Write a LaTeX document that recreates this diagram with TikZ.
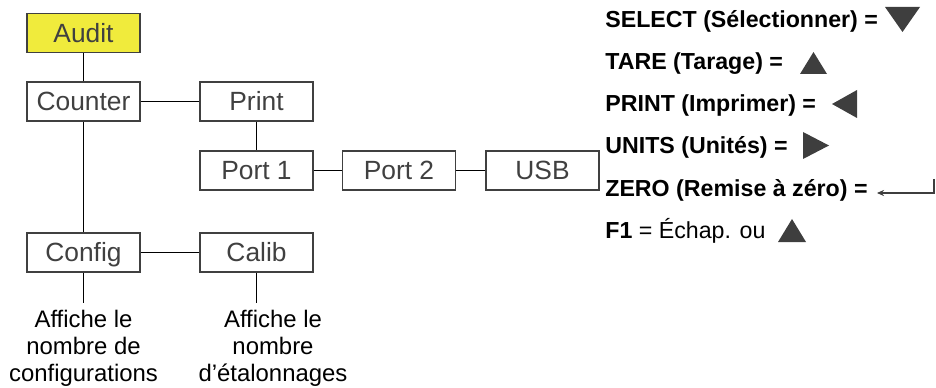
\documentclass[tikz,border=0pt]{standalone}
\usepackage{fontspec}
\setmainfont{Liberation Sans}
\usetikzlibrary{arrows.meta}
\definecolor{audityellow}{RGB}{240,235,60}
\definecolor{boxgray}{RGB}{64,64,64}
\definecolor{keygray}{RGB}{62,62,62}
\begin{document}
\begin{tikzpicture}[x=0.02cm, y=-0.02cm,
        menubox/.style={draw=boxgray, line width=0.9pt, text=boxgray,
            minimum width=2.26cm, minimum height=0.78cm, inner sep=0pt,
            text height=10.7pt, text depth=0pt,
            font=\fontsize{15}{17}\selectfont},
        link/.style={line width=0.85pt},
        note/.style={align=center, inner xsep=0pt, inner ysep=0.14cm,
            anchor=north, font=\fontsize{13.6}{15.3}\selectfont},
        keytext/.style={anchor=base west, inner sep=0pt,
            font=\fontsize{13.2}{15}\selectfont\bfseries},
        keytri/.style={fill=keygray}]
    \useasboundingbox (0,0) rectangle (936,388);
    % menu tree
    \node[menubox, fill=audityellow] (audit) at (83.5,33) {Audit};
    \node[menubox] (counter) at (83.5,101.5) {Counter};
    \node[menubox] (print) at (256.5,101.5) {Print};
    \node[menubox] (port1) at (256.5,170.5) {Port 1};
    \node[menubox] (port2) at (399,170.5) {Port 2};
    \node[menubox] (usb) at (542.5,170.5) {USB};
    \node[menubox] (config) at (83.5,252.5) {Config};
    \node[menubox] (calib) at (256.5,252.5) {Calib};
    \node[note] (confignote) at (83.5,303) {Affiche le\\nombre de\\configurations};
    \node[note] (calibnote) at (273,303) {Affiche le\\nombre\\d’étalonnages};
    \draw[link] (audit) -- (counter);
    \draw[link] (counter) -- (print);
    \draw[link] (print) -- (port1);
    \draw[link] (port1) -- (port2);
    \draw[link] (port2) -- (usb);
    \draw[link] (counter) -- (config);
    \draw[link] (config) -- (calib);
    \draw[link] (config) -- (confignote);
    \draw[link] (calib.south) -- (calib.south |- calibnote.north);
    % key legend
    \node[keytext] (selectkey) at (605,28) {SELECT (Sélectionner) =};
    \node[keytext] (tarekey) at (605,70) {TARE (Tarage) =};
    \node[keytext] (printkey) at (605,112) {PRINT (Imprimer) =};
    \node[keytext] (unitskey) at (605,154) {UNITS (Unités) =};
    \node[keytext] (zerokey) at (605,196) {ZERO (Remise à zéro) =};
    \node[keytext] (fonekey) at (605,238) {F1 \mdseries= Échap. ou};
    \fill[keytri] (885,7) -- (920,7) -- (902.5,32) -- cycle;
    \fill[keytri] (800,74) -- (827,74) -- (813.5,52) -- cycle;
    \fill[keytri] (857,90) -- (857,118) -- (832,104) -- cycle;
    \fill[keytri] (803,132) -- (803,159) -- (829,145.5) -- cycle;
    \fill[keytri] (778,242) -- (806,242) -- (792,219) -- cycle;
    \coordinate (zerotop) at (934,179);
    \coordinate (zeroend) at (877,193);
    \draw[keygray, line width=0.7pt, -{Stealth[length=4pt, width=3.5pt]}]
        (zerotop) |- (zeroend);
\end{tikzpicture}
\end{document}
